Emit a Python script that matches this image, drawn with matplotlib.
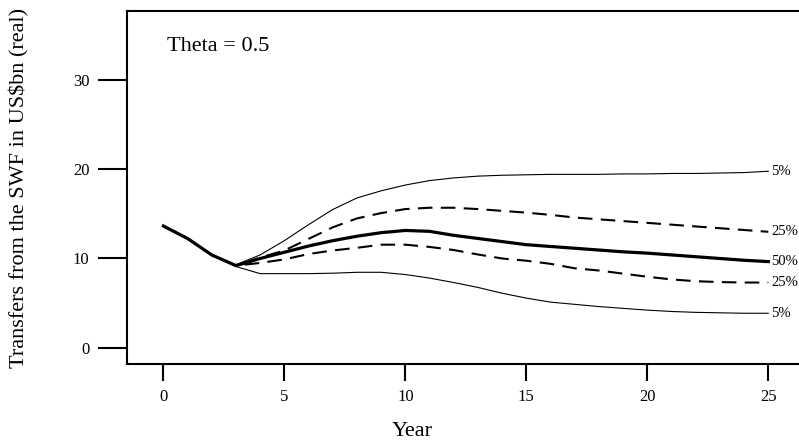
#!/usr/bin/env python3
import matplotlib
matplotlib.use("Agg")
import matplotlib.pyplot as plt

# fan chart of SWF transfers
years = list(range(26))
median = [13.65, 12.25, 10.4, 9.2, 10.0, 10.7, 11.4, 12.0, 12.5, 12.9,
          13.15, 13.05, 12.6, 12.25, 11.9, 11.55, 11.35, 11.15, 10.95, 10.75,
          10.6, 10.4, 10.2, 10.0, 9.8, 9.65]
upper_5 = [13.65, 12.25, 10.4, 9.3, 10.4, 12.0, 13.8, 15.5, 16.8, 17.6,
           18.25, 18.75, 19.05, 19.25, 19.35, 19.4, 19.45, 19.45, 19.45, 19.5,
           19.5, 19.55, 19.55, 19.6, 19.65, 19.8]
upper_25 = [13.65, 12.25, 10.4, 9.2, 10.1, 10.9, 12.2, 13.5, 14.5, 15.1,
            15.55, 15.7, 15.7, 15.55, 15.35, 15.15, 14.9, 14.6, 14.4, 14.2,
            14.0, 13.8, 13.6, 13.4, 13.2, 13.0]
lower_25 = [13.65, 12.25, 10.4, 9.2, 9.5, 9.9, 10.5, 10.9, 11.2, 11.55,
            11.55, 11.3, 10.95, 10.45, 10.0, 9.75, 9.4, 8.9, 8.65, 8.3,
            7.95, 7.65, 7.45, 7.35, 7.3, 7.3]
lower_5 = [13.65, 12.25, 10.4, 9.1, 8.3, 8.3, 8.3, 8.35, 8.45, 8.45,
           8.2, 7.8, 7.3, 6.75, 6.1, 5.55, 5.1, 4.85, 4.6, 4.4,
           4.2, 4.05, 3.95, 3.9, 3.85, 3.85]

x_ticks = [0, 5, 10, 15, 20, 25]
y_ticks = [0, 10, 20, 30]

plt.rcParams['font.family'] = ['Liberation Serif', 'DejaVu Serif']

fig = plt.figure(figsize=(7.99, 4.48), dpi=100)
ax = fig.add_axes([0.159, 0.1875, 0.848, 0.788])

ax.plot(years, upper_5, color='black', linewidth=0.8)
ax.plot(years, lower_5, color='black', linewidth=0.8)
ax.plot(years, upper_25, color='black', linewidth=1.5, dashes=(7, 4))
ax.plot(years, lower_25, color='black', linewidth=1.5, dashes=(7, 4))
ax.plot(years, median, color='black', linewidth=2.3)

# percentile labels at the line ends (kept small so they fit the edge)
for vals, lab in [(upper_5, '5%'), (upper_25, '25%'), (median, '50%'),
                  (lower_25, '25%'), (lower_5, '5%')]:
    ax.text(25.12, vals[-1], lab, ha='left', va='center', fontsize=10.5,
            clip_on=False)

ax.text(0.15, 33.8, 'Theta = 0.5', ha='left', va='center', fontsize=16)

ax.set_xlim(-1.5, 26.5)
ax.set_ylim(-1.85, 37.8)
ax.set_xticks(x_ticks)
ax.set_yticks(y_ticks)
for s in ax.spines.values():
    s.set_linewidth(1.5)
ax.tick_params(axis='y', length=21, width=1.5, pad=6, labelsize=12)
ax.tick_params(axis='x', length=12, width=1.5, pad=6, labelsize=12)

fig.text(0.025, 0.58, 'Transfers from the SWF in US$bn (real)', rotation=90,
         ha='center', va='center', fontsize=16)
fig.text(0.5156, 0.036, 'Year', ha='center', va='center', fontsize=16)

fig.savefig('out.png', dpi=100)
